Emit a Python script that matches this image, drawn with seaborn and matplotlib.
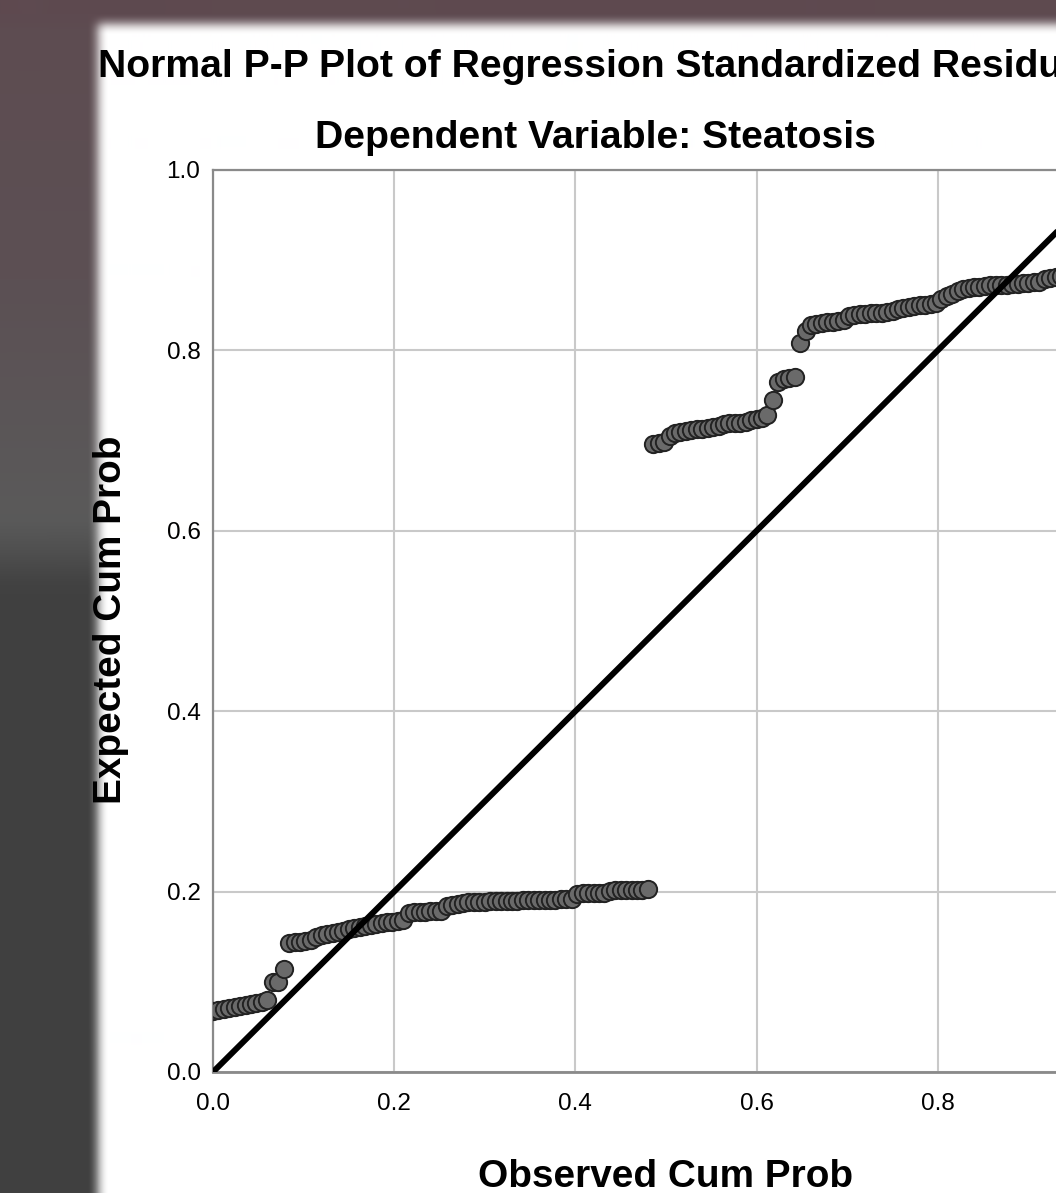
import numpy as np
import pandas as pd
import matplotlib
matplotlib.use("Agg")
import matplotlib.pyplot as plt
import seaborn as sns

# ---------------- data ----------------
observed_cum_prob = [
    0.000, 0.006, 0.012, 0.018, 0.024, 0.030, 0.036, 0.042, 0.048, 0.054,
    0.060, 0.066, 0.072, 0.078, 0.084, 0.090, 0.096, 0.102, 0.108, 0.114,
    0.120, 0.126, 0.132, 0.138, 0.144, 0.150, 0.156, 0.162, 0.168, 0.174,
    0.180, 0.186, 0.192, 0.198, 0.204, 0.210, 0.216, 0.222, 0.228, 0.234,
    0.240, 0.246, 0.252, 0.258, 0.264, 0.270, 0.276, 0.282, 0.288, 0.294,
    0.300, 0.306, 0.312, 0.318, 0.324, 0.330, 0.336, 0.342, 0.348, 0.354,
    0.360, 0.366, 0.372, 0.378, 0.384, 0.390, 0.396, 0.402, 0.408, 0.414,
    0.420, 0.426, 0.432, 0.438, 0.444, 0.450, 0.456, 0.462, 0.468, 0.474,
    0.480, 0.486, 0.492, 0.498, 0.504, 0.510, 0.516, 0.522, 0.528, 0.534,
    0.540, 0.546, 0.552, 0.558, 0.564, 0.570, 0.576, 0.582, 0.588, 0.594,
    0.600, 0.606, 0.612, 0.618, 0.624, 0.630, 0.636, 0.642, 0.648, 0.654,
    0.660, 0.666, 0.672, 0.678, 0.684, 0.690, 0.696, 0.702, 0.708, 0.714,
    0.720, 0.726, 0.732, 0.738, 0.744, 0.750, 0.756, 0.762, 0.768, 0.774,
    0.780, 0.786, 0.792, 0.798, 0.804, 0.810, 0.816, 0.822, 0.828, 0.834,
    0.840, 0.846, 0.852, 0.858, 0.864, 0.870, 0.876, 0.882, 0.888, 0.894,
    0.900, 0.906, 0.912, 0.918, 0.924, 0.930, 0.936, 0.942, 0.948, 0.954,
    0.960, 0.966, 0.972, 0.978, 0.984, 0.990, 0.996,
]
expected_cum_prob = [
    0.068, 0.069, 0.070, 0.071, 0.072, 0.073, 0.074, 0.075, 0.077, 0.078, 0.080,
    0.100, 0.100, 0.114,
    0.143, 0.144, 0.144, 0.145, 0.146,
    0.150, 0.152, 0.153, 0.154, 0.155, 0.156,
    0.158, 0.160, 0.161, 0.162, 0.163, 0.164,
    0.165, 0.166, 0.166, 0.167, 0.168,
    0.176, 0.177, 0.177, 0.177, 0.178, 0.178, 0.179,
    0.184, 0.185, 0.186, 0.187, 0.188,
    0.189, 0.189, 0.189, 0.190, 0.190, 0.190, 0.190, 0.190, 0.190, 0.191,
    0.191, 0.191, 0.191, 0.191, 0.191, 0.191, 0.192, 0.192, 0.192,
    0.197, 0.198, 0.198, 0.198, 0.199, 0.199,
    0.201, 0.202, 0.202, 0.202, 0.202, 0.202, 0.202, 0.203,
    0.696, 0.697, 0.699,
    0.705, 0.708, 0.710, 0.711,
    0.712, 0.713, 0.713, 0.714, 0.715, 0.716,
    0.718, 0.719, 0.720, 0.720, 0.721,
    0.723, 0.724, 0.725,
    0.728,
    0.745,
    0.765, 0.768, 0.769, 0.770,
    0.808,
    0.822,
    0.828, 0.829, 0.830, 0.831, 0.832, 0.833, 0.834,
    0.838, 0.839, 0.840, 0.840, 0.841, 0.842, 0.842, 0.843, 0.844,
    0.846, 0.847, 0.848, 0.849, 0.850, 0.850, 0.851, 0.852,
    0.857, 0.860, 0.862,
    0.866, 0.868, 0.869, 0.870, 0.870, 0.871,
    0.872, 0.873, 0.873, 0.873, 0.874, 0.874, 0.875, 0.875, 0.876, 0.876,
    0.879, 0.880, 0.881,
    0.883, 0.885, 0.888, 0.890, 0.893, 0.897, 0.902, 0.910, 0.920, 0.935, 0.960,
]
reference_line = [0.0, 1.0]
tick_values = [0.0, 0.2, 0.4, 0.6, 0.8, 1.0]
tick_labels = ["0.0", "0.2", "0.4", "0.6", "0.8", "1.0"]

title_text = "Normal P-P Plot of Regression Standardized Residual"
subtitle_text = "Dependent Variable: Steatosis"
x_label = "Observed Cum Prob"
y_label = "Expected Cum Prob"

df = pd.DataFrame({"observed": observed_cum_prob, "expected": expected_cum_prob})

# ---------------- style ----------------
sns.set_theme(style="whitegrid")
plt.rcParams["font.family"] = ["Liberation Sans", "DejaVu Sans"]

W, H, DPI = 1056, 1193, 100
fig = plt.figure(figsize=(W / DPI, H / DPI), dpi=DPI)

# ---- screenshot background (dark border around white page) ----
bg = np.ones((H, W, 3))
ys = np.arange(H)
stop_y = [0, 280, 520, 550, 585, H]
stop_c = [(94, 76, 81), (92, 80, 84), (90, 90, 90), (80, 80, 80), (65, 65, 65), (64, 64, 64)]
left_col = np.stack([np.interp(ys, stop_y, [c[k] for c in stop_c]) for k in range(3)], axis=1) / 255
bg[:, :98, :] = left_col[:, None, :]
bg[:24, :, :] = np.array([94, 74, 80]) / 255


def blur1d(a, r, axis):
    a = np.moveaxis(a, axis, 0)
    p = np.concatenate([np.repeat(a[:1], r, 0), a, np.repeat(a[-1:], r, 0)], 0)
    c = np.cumsum(p, 0)
    c = np.concatenate([np.zeros_like(c[:1]), c], 0)
    out = (c[2 * r + 1:] - c[:-2 * r - 1]) / (2 * r + 1)
    return np.moveaxis(out, 0, axis)


for _ in range(2):
    bg = blur1d(bg, 5, 1)
    bg = blur1d(bg, 5, 0)

bgax = fig.add_axes([0, 0, 1, 1], zorder=-10)
bgax.imshow(np.clip(bg, 0, 1), aspect="auto", interpolation="nearest")
bgax.set_axis_off()

# ---- main axes (extends past the right edge, as in the cropped screenshot) ----
left_px, right_px, top_px, bottom_px = 213, 1119, 170, 1072
ax = fig.add_axes([left_px / W, 1 - bottom_px / H,
                   (right_px - left_px) / W, (bottom_px - top_px) / H])
ax.set_facecolor("white")

sns.scatterplot(data=df, x="observed", y="expected", ax=ax,
                s=155, color="#6a6a6a", edgecolor="#222222", linewidth=1.4,
                zorder=3, legend=False)
sns.lineplot(x=reference_line, y=reference_line, ax=ax, color="black",
             linewidth=4.3, zorder=4)

ax.set_xlim(0, 1)
ax.set_ylim(0, 1)
ax.set_xticks(tick_values)
ax.set_xticklabels(tick_labels)
ax.set_yticks(tick_values)
ax.set_yticklabels(tick_labels)
ax.tick_params(axis="both", length=0, labelsize=17.5, colors="black")
ax.tick_params(axis="x", pad=15)
ax.tick_params(axis="y", pad=9)
ax.grid(True, color="#c9c9c9", linewidth=1.5)
ax.set_axisbelow(True)
ax.set_xlabel("")
ax.set_ylabel("")
for side in ["left", "bottom", "top", "right"]:
    ax.spines[side].set_visible(True)
    ax.spines[side].set_color("#8a8a8a")
    ax.spines[side].set_linewidth(1.6)
ax.spines["bottom"].set_linewidth(2.0)

# ---- texts ----
fig.text(98 / W, 1 - 77 / H, title_text, ha="left", va="baseline",
         fontsize=28.2, fontweight="bold", color="black")
fig.text(595 / W, 1 - 148 / H, subtitle_text, ha="center", va="baseline",
         fontsize=28.2, fontweight="bold", color="black")
fig.text(666 / W, 1 - 1187 / H, x_label, ha="center", va="baseline",
         fontsize=27.9, fontweight="bold", color="black")
fig.text(111 / W, 1 - 620 / H, y_label, ha="center", va="center", rotation=90,
         fontsize=27.9, fontweight="bold", color="black")

fig.savefig("out.png", dpi=DPI)
